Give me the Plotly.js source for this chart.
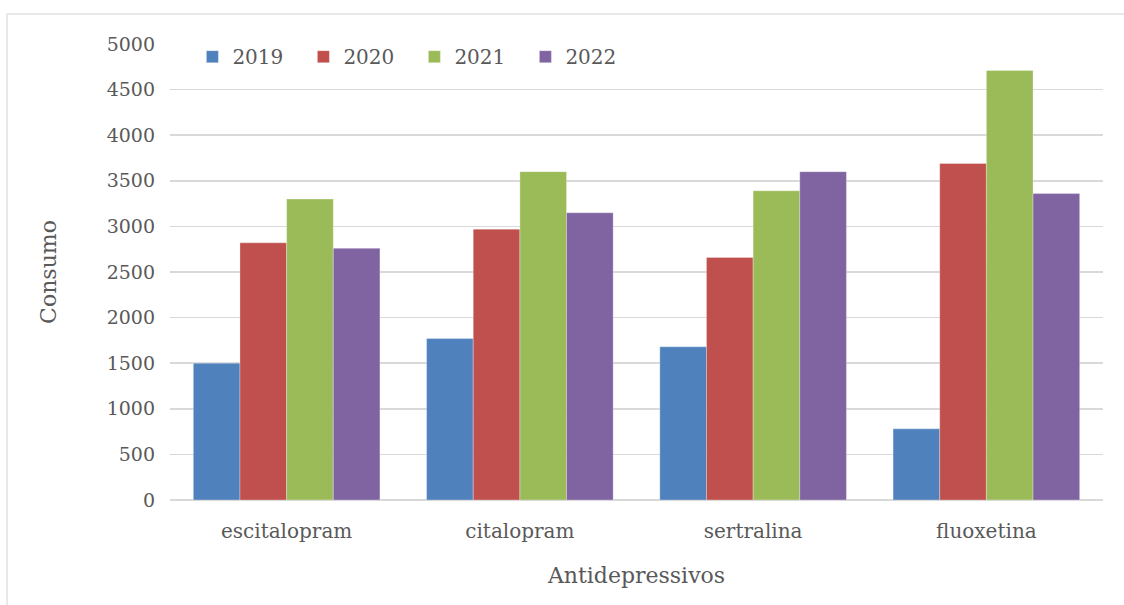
<!DOCTYPE html>
<html>
<head>
<meta charset="utf-8">
<script src="https://cdn.plot.ly/plotly-3.0.1.min.js"></script>
<style>
  html, body { margin: 0; padding: 0; background: #fff; }
  #frame { position: absolute; left: 6px; top: 13px; width: 1130px; height: 600px;
           border-top: 2px solid #e8e8e8; border-left: 2px solid #e8e8e8; pointer-events: none; }
  #chart { position: absolute; left: 0; top: 0; width: 1124px; height: 605px; }
</style>
</head>
<body>
<div id="chart"></div>
<div id="frame"></div>
<script>
const categories = ["escitalopram", "citalopram", "sertralina", "fluoxetina"];
const years = ["2019", "2020", "2021", "2022"];
const v2019 = [1500, 1770, 1680, 780];
const v2020 = [2820, 2970, 2660, 3690];
const v2021 = [3300, 3600, 3390, 4710];
const v2022 = [2760, 3150, 3600, 3360];
const colors = ["#4F81BD", "#C0504D", "#9BBB59", "#8064A2"];
const series = [v2019, v2020, v2021, v2022];

const FONT = "DejaVu Serif";
const traces = series.map((vals, i) => ({
  type: "bar",
  name: years[i],
  x: categories,
  y: vals,
  marker: { color: colors[i], line: { color: "rgba(255,255,255,0.6)", width: 0.5 } },
  hoverinfo: "x+y+name"
}));

const layout = {
  width: 1124, height: 605,
  margin: { l: 170, r: 21, t: 44, b: 105 },
  paper_bgcolor: "rgba(0,0,0,0)",
  plot_bgcolor: "#fff",
  barmode: "group",
  bargap: 0.2,
  bargroupgap: 0,
  font: { family: FONT, color: "#595959" },
  showlegend: true,
  legend: {
    orientation: "h", x: 0.024, xanchor: "left", y: 1.015, yanchor: "top",
    font: { family: FONT, size: 20, color: "#595959" },
    entrywidth: 66, entrywidthmode: "pixels",
    bgcolor: "rgba(0,0,0,0)", itemwidth: 30, traceorder: "normal"
  },
  xaxis: {
    type: "category",
    showgrid: false, showline: false, zeroline: false,
    ticks: "", ticklabelstandoff: 17,
    tickfont: { family: FONT, size: 20, color: "#595959" },
    title: { text: "Antidepressivos", font: { family: FONT, size: 22, color: "#595959" }, standoff: 25 },
    automargin: false
  },
  yaxis: {
    range: [0, 5000], dtick: 500, tick0: 0,
    showgrid: true, gridcolor: "#d9d9d9", gridwidth: 1.5,
    zeroline: true, zerolinecolor: "#d9d9d9", zerolinewidth: 1.5,
    showline: false, ticks: "", ticklabelstandoff: 14,
    tickfont: { family: FONT, size: 19, color: "#595959" },
    title: { text: "Consumo", font: { family: FONT, size: 22, color: "#595959" }, standoff: 43 },
    automargin: false
  }
};

Plotly.newPlot("chart", traces, layout, { displayModeBar: false, staticPlot: true });
</script>
</body>
</html>
